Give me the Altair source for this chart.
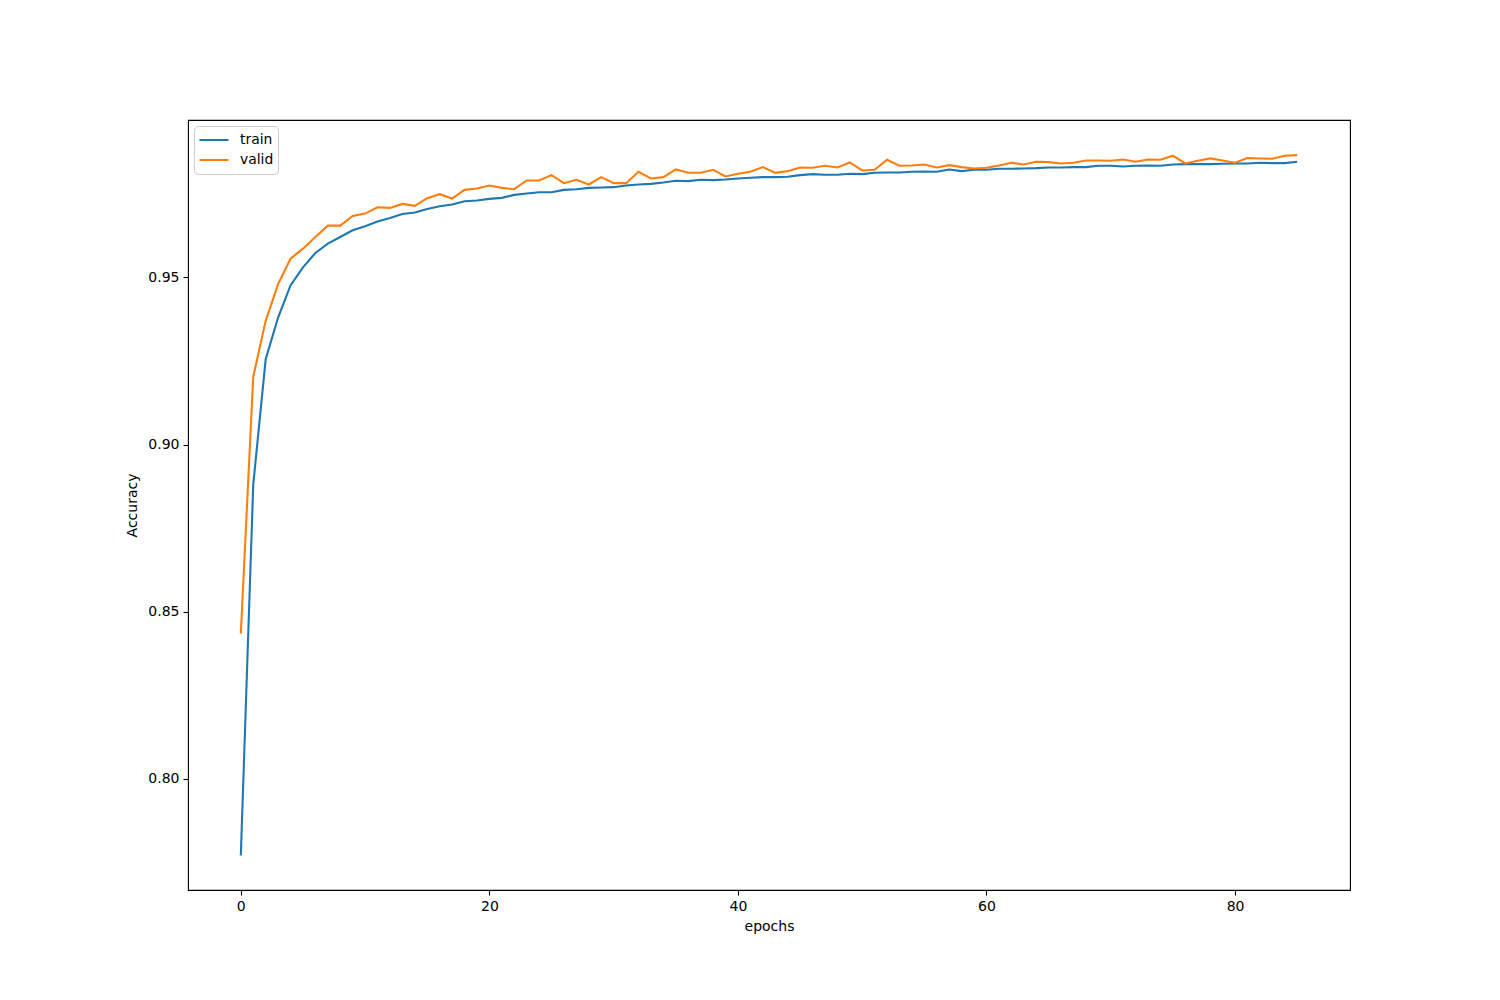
import altair as alt
import pandas as pd

epochs = list(range(86))

train = [
    0.777, 0.888, 0.9255, 0.938, 0.9476, 0.953, 0.9573, 0.9601, 0.9621, 0.9641,
    0.9653, 0.9667, 0.9678, 0.969, 0.9694, 0.9705, 0.9713, 0.9718, 0.9728, 0.973,
    0.9735, 0.9738, 0.9747, 0.9751, 0.9755, 0.9755, 0.9762, 0.9764, 0.9768, 0.9769,
    0.977, 0.9775, 0.9778, 0.978, 0.9784, 0.9789, 0.9788, 0.9792, 0.9791, 0.9793,
    0.9796, 0.9798, 0.980, 0.980, 0.9801, 0.9806, 0.9809, 0.9807, 0.9807, 0.981,
    0.9809, 0.9813, 0.9814, 0.9814, 0.9816, 0.9817, 0.9816, 0.9823, 0.9818, 0.9822,
    0.9822, 0.9825, 0.9825, 0.9826, 0.9827, 0.9829, 0.9829, 0.983, 0.983, 0.9834,
    0.9834, 0.9832, 0.9834, 0.9835, 0.9834, 0.9838, 0.9839, 0.9839, 0.9839, 0.984,
    0.9841, 0.9841, 0.9843, 0.9842, 0.9842, 0.9846,
]

valid = [
    0.8434, 0.9203, 0.937, 0.948, 0.9556, 0.9586, 0.9621, 0.9655, 0.9655, 0.9684,
    0.9691, 0.971, 0.9708, 0.972, 0.9714, 0.9737, 0.9749, 0.9736, 0.9762, 0.9766,
    0.9775, 0.9768, 0.9764, 0.979, 0.979, 0.9806, 0.9782, 0.9792, 0.9778, 0.980,
    0.9782, 0.9782, 0.9816, 0.9796, 0.980, 0.9823, 0.9813, 0.9813, 0.9822, 0.9802,
    0.981, 0.9816, 0.983, 0.9813, 0.9818, 0.9829, 0.9828, 0.9834, 0.9829, 0.9844,
    0.982, 0.9822, 0.9852, 0.9834, 0.9835, 0.9838, 0.9829, 0.9836, 0.983, 0.9826,
    0.9828, 0.9835, 0.9843, 0.9838, 0.9846, 0.9845, 0.9841, 0.9843, 0.985, 0.985,
    0.9849, 0.9853, 0.9846, 0.9853, 0.9852, 0.9864, 0.9841, 0.9849, 0.9856, 0.985,
    0.9843, 0.9857, 0.9856, 0.9855, 0.9864, 0.9866,
]

series_names = ["train", "valid"]
series_colors = ["#1f77b4", "#ff7f0e"]
x_ticks = [0, 20, 40, 60, 80]
y_ticks = [0.80, 0.85, 0.90, 0.95]

df = pd.DataFrame({
    "epoch": epochs + epochs,
    "acc": train + valid,
    "series": ["train"] * len(train) + ["valid"] * len(valid),
})

FONT = "DejaVu Sans"

chart = alt.Chart(df).mark_line(strokeWidth=2.1).encode(
    x=alt.X("epoch:Q",
            scale=alt.Scale(domain=[-4.25, 89.25], nice=False, zero=False),
            axis=alt.Axis(values=x_ticks, format="d", title="epochs")),
    y=alt.Y("acc:Q",
            scale=alt.Scale(domain=[0.7667, 0.9971], nice=False, zero=False),
            axis=alt.Axis(values=y_ticks, format=".2f", title="Accuracy")),
    color=alt.Color("series:N",
                    scale=alt.Scale(domain=series_names, range=series_colors),
                    legend=alt.Legend(
                        title=None, orient="top-left", offset=6,
                        symbolType="stroke", symbolSize=841, symbolStrokeWidth=2.1,
                        clipHeight=20,
                        labelFontSize=13.9, labelFont=FONT, labelColor="black",
                        labelOffset=10, rowPadding=0,
                        fillColor="white", strokeColor="#cccccc", cornerRadius=4,
                        padding=4)),
    detail="series:N",
).properties(
    width=1162, height=770,
    autosize=alt.AutoSizeParams(type="none"),
    padding={"left": 180, "top": 112, "right": 142, "bottom": 102},
).configure_view(
    stroke="black", strokeWidth=1.1
).configure_axis(
    domain=False, grid=False,
    tickColor="black", tickSize=5, tickWidth=1.1,
    labelFont=FONT, labelFontSize=14, labelColor="black", labelPadding=4,
    titleFont=FONT, titleFontSize=14, titleFontWeight="normal", titleColor="black",
).configure_axisX(titlePadding=6).configure_axisY(titlePadding=8)

chart.save("out.html", embed_options={"renderer": "svg", "actions": False})
